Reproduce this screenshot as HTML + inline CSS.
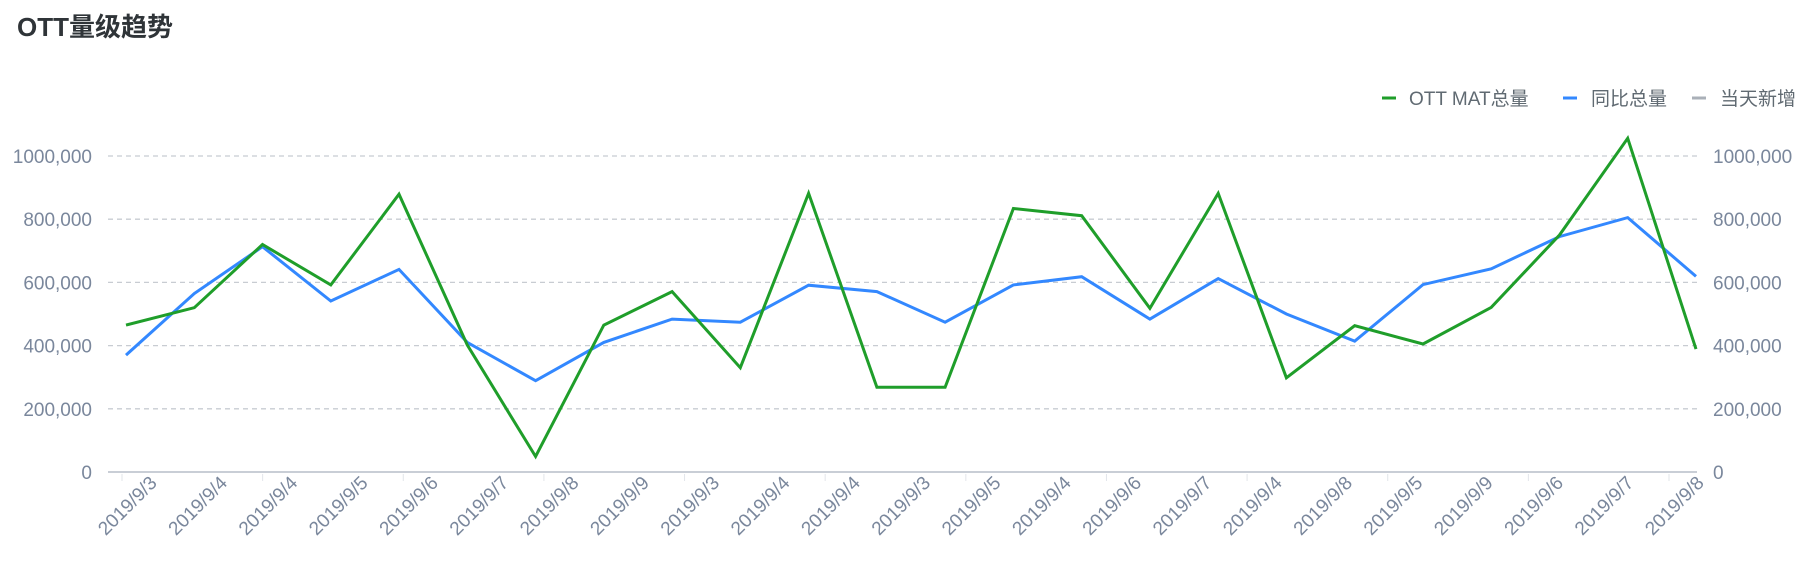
<!DOCTYPE html>
<html><head><meta charset="utf-8">
<style>
html,body{margin:0;padding:0;background:#fff;}
body{width:1805px;height:567px;overflow:hidden;font-family:"Liberation Sans","Noto Sans CJK SC",sans-serif;}
</style></head>
<body>
<svg id="chart" width="1805" height="567" xmlns="http://www.w3.org/2000/svg" font-family="Liberation Sans, Noto Sans CJK SC, sans-serif">
  <text x="17" y="36" font-size="26" font-weight="bold" fill="#2f3438">OTT量级趋势</text>
  <g>
    <g>
      <line x1="1382" y1="98" x2="1396" y2="98" stroke="#1f9e2a" stroke-width="3"/>
      <text x="1409" y="105" font-size="19" fill="#606a72">OTT MAT总量</text>
    </g>
    <g>
      <line x1="1563" y1="98" x2="1577" y2="98" stroke="#3388ff" stroke-width="3"/>
      <text x="1591" y="105" font-size="19" fill="#606a72">同比总量</text>
    </g>
    <g>
      <line x1="1692" y1="98" x2="1706" y2="98" stroke="#aab0b8" stroke-width="3"/>
      <text x="1720" y="105" font-size="19" fill="#606a72">当天新增</text>
    </g>
  </g>
  <g id="grid"></g>
  <g id="axes"></g>
  <g id="series"></g>
</svg>
<script>
const categories = ["2019/9/3","2019/9/4","2019/9/4","2019/9/5","2019/9/6","2019/9/7","2019/9/8","2019/9/9","2019/9/3","2019/9/4","2019/9/4","2019/9/3","2019/9/5","2019/9/4","2019/9/6","2019/9/7","2019/9/4","2019/9/8","2019/9/5","2019/9/9","2019/9/6","2019/9/7","2019/9/8"];
const ottMat = [465000,520000,720000,592000,879000,402000,49000,465000,571000,330000,882000,268000,268000,834000,811000,518000,882000,298000,463000,405000,521000,750000,1056000,389000];
const yoyTotal = [370000,565000,713000,541000,641000,410000,289000,410000,484000,474000,591000,571000,474000,592000,618000,484000,612000,500000,414000,593000,643000,745000,805000,619000];
const yTicks = [0,200000,400000,600000,800000,1000000];
const yTickLabels = ["0","200,000","400,000","600,000","800,000","1000,000"];

const NS = "http://www.w3.org/2000/svg";
const plotL = 108, plotR = 1697, y0 = 472, yTop = 156;
const ptL = 126, ptR = 1696;
function yScale(v){ return y0 - v / 1000000 * (y0 - yTop); }
function xScale(i, n){ return ptL + i * (ptR - ptL) / (n - 1); }
function labelX(i){ return 158 + i * (1705 - 158) / (categories.length - 1); }
function mk(tag, attrs, parent){
  const e = document.createElementNS(NS, tag);
  for (const k in attrs) e.setAttribute(k, attrs[k]);
  parent.appendChild(e);
  return e;
}
const grid = document.getElementById('grid');
const axes = document.getElementById('axes');
const series = document.getElementById('series');

yTicks.forEach((v, i) => {
  const y = yScale(v);
  if (v !== 0) {
    const gl = mk('line', {x1: plotL, x2: plotR, y1: y, y2: y, stroke: '#c8ccd2', 'stroke-width': 1.3, 'stroke-dasharray': '5,4'}, grid);
    
    
  }
  const tl = mk('text', {x: 92, y: y + 7, 'font-size': 19, fill: '#7a879c', 'text-anchor': 'end'}, axes);
  tl.textContent = yTickLabels[i];
  
  
  const tr = mk('text', {x: 1713, y: y + 7, 'font-size': 19, fill: '#7a879c'}, axes);
  tr.textContent = yTickLabels[i];
  
  
});
const ax = mk('line', {x1: plotL, x2: plotR, y1: y0, y2: y0, stroke: '#c9ced6', 'stroke-width': 2}, axes);



categories.forEach((c, i) => {
  if (i % 2 === 0) {
    const tx = labelX(i) - 36;
    const tk = mk('line', {x1: tx, x2: tx, y1: y0 + 2, y2: y0 + 9, stroke: '#e2e5ea', 'stroke-width': 1}, axes);
    
    
  }
  const lx = labelX(i), ly = 484;
  const t = mk('text', {x: lx, y: ly, 'font-size': 19, fill: '#7a879c', 'text-anchor': 'end', transform: 'rotate(-45 ' + lx + ' ' + ly + ')'}, axes);
  t.textContent = c;
  
  
});

function drawLine(data, color, name){
  const pts = data.map((v, i) => xScale(i, data.length).toFixed(1) + ',' + yScale(v).toFixed(1)).join(' ');
  const p = mk('polyline', {points: pts, fill: 'none', stroke: color, 'stroke-width': 3, 'stroke-linejoin': 'miter'}, series);
  
  
}
drawLine(yoyTotal, '#3388ff', 'yoy-total-line');
drawLine(ottMat, '#1f9e2a', 'ott-mat-line');
</script>
</body></html>
